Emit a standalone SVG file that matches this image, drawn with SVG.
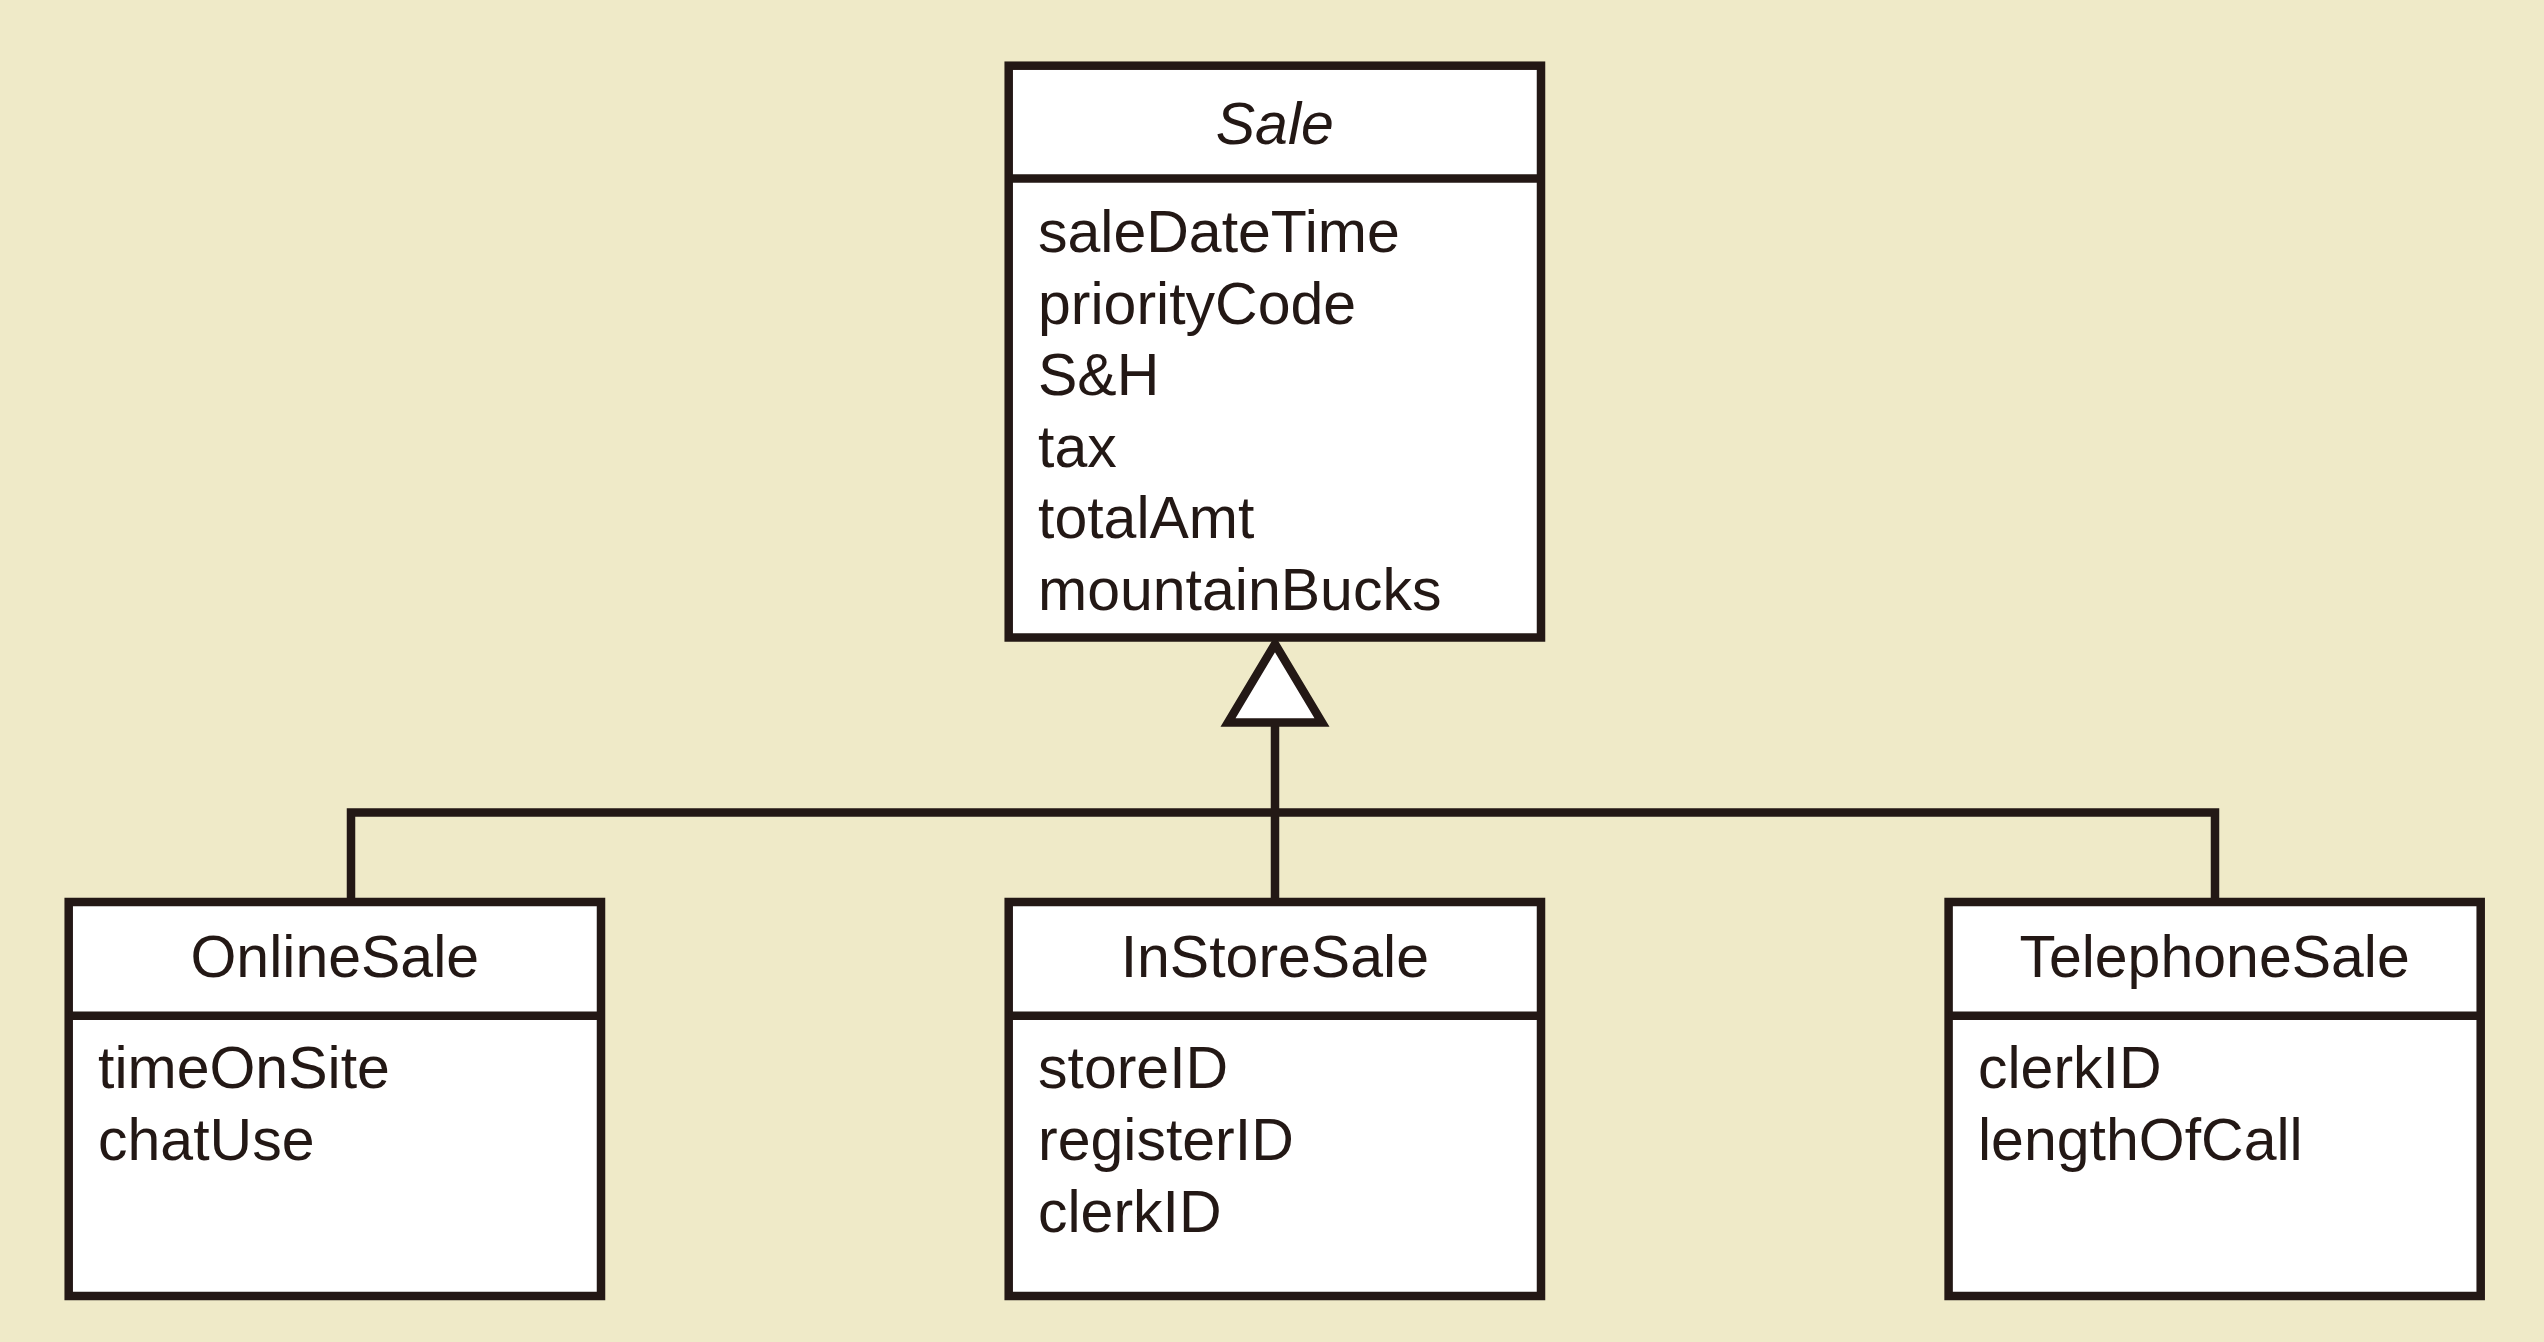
<svg xmlns="http://www.w3.org/2000/svg" width="2544" height="1342" viewBox="0 0 2544 1342">
<style>
.box{fill:#FFFFFF;stroke:#231815;stroke-width:8.5}
.div{stroke:#231815;stroke-width:8.5}
.conn{fill:none;stroke:#231815;stroke-width:8.5;stroke-linejoin:miter}
.tri{fill:#FFFFFF;stroke:#231815;stroke-width:8.5;stroke-linejoin:miter}
text{font-family:"Liberation Sans",Arial,Helvetica,sans-serif;font-size:59px;fill:#231815}
.title{text-anchor:middle}
.it{font-style:italic}
</style>
<rect x="0" y="0" width="2544" height="1342" fill="#EFEAC8"/>
<g id="connectors">
<polyline class="conn" points="351,902 351,812.5 2215,812.5 2215,902"/>
<line class="conn" x1="1275" y1="722" x2="1275" y2="902"/>
<polygon class="tri" points="1275,644 1322,722.5 1228,722.5"/>
</g>
<g id="Sale">
<rect class="box" x="1008.7" y="65.7" width="532.3" height="571.8"/>
<line class="div" x1="1008.7" y1="178.5" x2="1541" y2="178.5"/>
<text class="title it" x="1274.8" y="143.6">Sale</text>
<text x="1038" y="252">saleDateTime</text>
<text x="1038" y="323.6">priorityCode</text>
<text x="1038" y="395.2">S&amp;H</text>
<text x="1038" y="466.8">tax</text>
<text x="1038" y="538.4">totalAmt</text>
<text x="1038" y="610">mountainBucks</text>
</g>
<g id="OnlineSale">
<rect class="box" x="68.7" y="902" width="532.3" height="394"/>
<line class="div" x1="68.7" y1="1015.7" x2="601" y2="1015.7"/>
<text class="title" x="334.8" y="977.3">OnlineSale</text>
<text x="98" y="1087.5">timeOnSite</text>
<text x="98" y="1159.5">chatUse</text>
</g>
<g id="InStoreSale">
<rect class="box" x="1008.7" y="902" width="532.3" height="394"/>
<line class="div" x1="1008.7" y1="1015.7" x2="1541" y2="1015.7"/>
<text class="title" x="1274.8" y="977.3">InStoreSale</text>
<text x="1038" y="1087.5">storeID</text>
<text x="1038" y="1159.5">registerID</text>
<text x="1038" y="1231.5">clerkID</text>
</g>
<g id="TelephoneSale">
<rect class="box" x="1948.6" y="902" width="532.1" height="394"/>
<line class="div" x1="1948.6" y1="1015.7" x2="2480.7" y2="1015.7"/>
<text class="title" x="2214.6" y="977.3">TelephoneSale</text>
<text x="1978" y="1087.5">clerkID</text>
<text x="1978" y="1159.5">lengthOfCall</text>
</g>
</svg>
